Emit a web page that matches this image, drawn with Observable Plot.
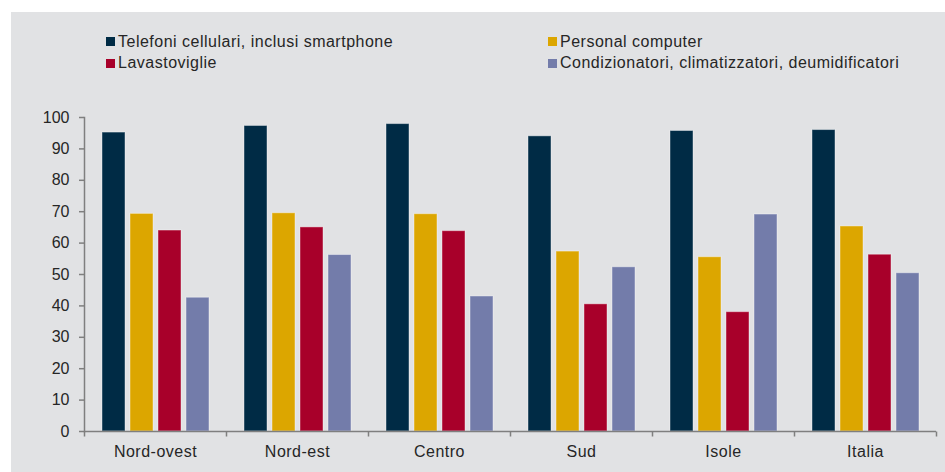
<!DOCTYPE html>
<html>
<head>
<meta charset="utf-8">
<script src="https://cdn.jsdelivr.net/npm/d3@7"></script>
<script src="https://cdn.jsdelivr.net/npm/@observablehq/plot@0.6"></script>
<style>
  html, body { margin: 0; padding: 0; background: #ffffff; }
  body { width: 945px; height: 472px; overflow: hidden; font-family: "Liberation Sans", Arial, sans-serif; }
  #panel { position: absolute; left: 11px; top: 12px; width: 934px; height: 460px; background: #e1e2e4; }
  #legend { position: absolute; left: 95px; top: 19px; display: grid; grid-template-columns: 442px 400px; row-gap: 0px; }
  .item { display: flex; align-items: center; height: 21.5px; font-size: 16px; letter-spacing: 0.5px; color: #262626; white-space: nowrap; }
  .sw { width: 9px; height: 9px; margin-right: 3px; flex: none; }
  #chart { position: absolute; left: 0; top: 100px; }
  #chart svg text { fill: #262626; }
  #chart svg g[aria-label="fx-axis tick label"] text { letter-spacing: 0.5px; }
  #chart svg line { stroke-width: 1.5; }
  #chart svg g[aria-label="y-axis tick"] path { stroke-width: 1.5; }
</style>
</head>
<body>
<div id="panel"><div id="legend"></div></div>
<div id="chart"></div>
<script>
const regions = ["Nord-ovest", "Nord-est", "Centro", "Sud", "Isole", "Italia"];
const series = [
  "Telefoni cellulari, inclusi smartphone",
  "Personal computer",
  "Lavastoviglie",
  "Condizionatori, climatizzatori, deumidificatori"
];
const telefoni = [95.2, 97.3, 97.9, 94.0, 95.7, 96.0];
const computer = [69.3, 69.5, 69.2, 57.3, 55.5, 65.3];
const lavastoviglie = [64.0, 65.0, 63.8, 40.5, 38.0, 56.3];
const condizionatori = [42.6, 56.2, 43.0, 52.3, 69.1, 50.4];
const colors = ["#002b45", "#dca600", "#a8002a", "#737caa"];
const yTicks = [0, 10, 20, 30, 40, 50, 60, 70, 80, 90, 100];

const valuesBySeries = [telefoni, computer, lavastoviglie, condizionatori];
const data = [];
regions.forEach((r, i) => {
  series.forEach((s, k) => data.push({region: r, series: s, value: valuesBySeries[k][i]}));
});

// legend (row-major, two columns as in the reference)
const legend = document.getElementById("legend");
series.forEach((s, k) => {
  const d = document.createElement("div");
  d.className = "item";
  d.innerHTML = `<span class="sw" style="background:${colors[k]}"></span><span>${s}</span>`;
  legend.appendChild(d);
});

const tickSymbol = { draw(ctx) { ctx.moveTo(0, 0); ctx.lineTo(0, 5); } };

const plot = Plot.plot({
  width: 945,
  height: 372,
  marginLeft: 84,
  marginRight: 9,
  marginTop: 17,
  marginBottom: 41,
  style: { background: "transparent", color: "#7f7f7f", fontSize: "16px", fontFamily: "'Liberation Sans', Arial, sans-serif", overflow: "visible" },
  fx: { domain: regions, padding: 0, label: null, axis: "bottom", tickSize: 0, tickPadding: 14 },
  x: { domain: series, paddingInner: 0.196, paddingOuter: 0.58, axis: null },
  y: { domain: [0, 100], ticks: yTicks, tickSize: 5, tickPadding: 10, line: true, label: null },
  color: { domain: series, range: colors },
  marks: [
    Plot.barY(data, { fx: "region", x: "series", y: "value", fill: "series", stroke: "#ffffff", strokeOpacity: 0.4, strokeWidth: 1 }),
    Plot.ruleY([0], { stroke: "#7f7f7f", strokeWidth: 1.5 }),
    Plot.dot([0], { frameAnchor: "bottom-left", symbol: tickSymbol, stroke: "#7f7f7f", strokeWidth: 1.5, fill: "none" }),
    Plot.dot([regions[regions.length - 1]], { fx: d => d, frameAnchor: "bottom-right", symbol: tickSymbol, stroke: "#7f7f7f", strokeWidth: 1.5, fill: "none" })
  ]
});
document.getElementById("chart").appendChild(plot);
</script>
</body>
</html>
